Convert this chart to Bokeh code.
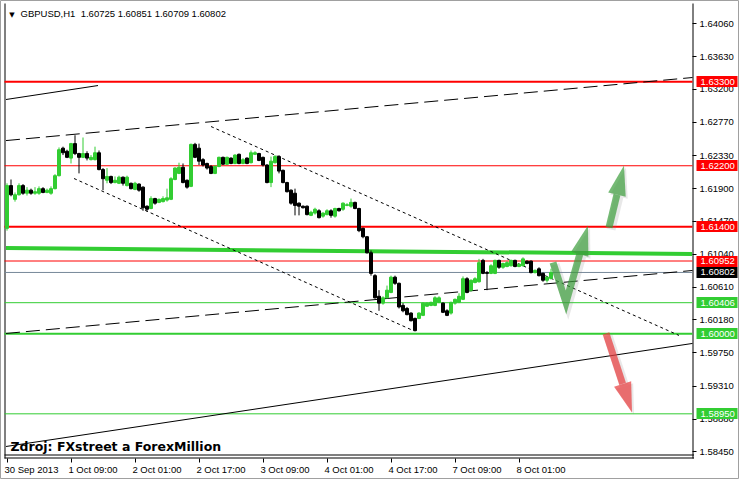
import math
import numpy as np
from bokeh.plotting import figure
from bokeh.models import Label, FixedTicker, PrintfTickFormatter, Range1d, LinearAxis
from bokeh.embed import file_html
from bokeh.resources import INLINE

# ---------------- data ----------------
symbol_title = "GBPUSD,H1\u00a0 1.60725 1.60851 1.60709 1.60802"
source_note = "Zdroj: FXstreet a ForexMillion"

opens = [1.6138,1.6194,1.6176,1.6182,1.6194,1.6184,1.6188,1.6184,1.6184,1.6190,
         1.6185,1.6184,1.6190,1.6207,1.6243,1.6239,1.6230,1.6249,1.6236,1.6231,
         1.6236,1.6228,1.6228,1.6237,1.6215,1.6201,1.6206,1.6198,1.6197,1.6205,
         1.6194,1.6197,1.6189,1.6196,1.6192,1.6167,1.6164,1.6177,1.6172,1.6173,
         1.6175,1.6176,1.6202,1.6210,1.6218,1.6201,1.6193,1.6248,1.6243,1.6228,
         1.6223,1.6219,1.6210,1.6219,1.6231,1.6222,1.6230,1.6223,1.6235,1.6223,
         1.6230,1.6224,1.6235,1.6236,1.6231,1.6221,1.6198,1.6224,1.6232,1.6214,
         1.6198,1.6188,1.6184,1.6171,1.6167,1.6167,1.6155,1.6158,1.6161,1.6154,
         1.6156,1.6161,1.6154,1.6164,1.6163,1.6168,1.6167,1.6172,1.6164,1.6138,
         1.6127,1.6106,1.6076,1.6049,1.6040,1.6047,1.6054,1.6074,1.6066,1.6037,
         1.6033,1.6027,1.6020,1.6020,1.6024,1.6036,1.6037,1.6037,1.6041,1.6040,
         1.6030,1.6027,1.6040,1.6041,1.6045,1.6072,1.6057,1.6067,1.6068,1.6096,
         1.6080,1.6079,1.6079,1.6096,1.6087,1.6088,1.6089,1.6096,1.6088,1.6089,
         1.6095,1.6095,1.6080,1.6085,1.6079,1.6070,1.60725]
highs = [1.6197,1.6202,1.6185,1.6197,1.6196,1.6192,1.6190,1.6192,1.6193,1.6192,
         1.6190,1.6193,1.6209,1.6244,1.6245,1.6241,1.6250,1.6260,1.6237,1.6257,
         1.6239,1.6234,1.6245,1.6240,1.6217,1.6217,1.6207,1.6206,1.6207,1.6206,
         1.6207,1.6198,1.6199,1.6197,1.6193,1.6168,1.6180,1.6178,1.6177,1.6180,
         1.6190,1.6205,1.6218,1.6224,1.6223,1.6202,1.6249,1.6250,1.6249,1.6230,
         1.6224,1.6221,1.6221,1.6232,1.6232,1.6232,1.6231,1.6235,1.6236,1.6230,
         1.6231,1.6240,1.6239,1.6237,1.6232,1.6222,1.6232,1.6234,1.6234,1.6215,
         1.6199,1.6189,1.6190,1.6172,1.6168,1.6168,1.6161,1.6165,1.6163,1.6159,
         1.6163,1.6163,1.6165,1.6165,1.6172,1.6171,1.6177,1.6173,1.6165,1.6139,
         1.6128,1.6109,1.6078,1.6057,1.6049,1.6063,1.6076,1.6076,1.6067,1.6040,
         1.6035,1.6028,1.6021,1.6028,1.6041,1.6041,1.6042,1.6049,1.6049,1.6041,
         1.6032,1.6042,1.6046,1.6053,1.6075,1.6074,1.6071,1.6074,1.6098,1.6098,
         1.6082,1.6091,1.6097,1.6097,1.6093,1.6095,1.6097,1.6097,1.6092,1.6100,
         1.6096,1.6096,1.6084,1.6087,1.6080,1.6075,1.60851]
lows = [1.6135,1.6180,1.6173,1.6181,1.6182,1.6181,1.6182,1.6182,1.6182,1.6184,
        1.6184,1.6182,1.6189,1.6206,1.6234,1.6230,1.6223,1.6234,1.6210,1.6230,
        1.6227,1.6227,1.6227,1.6214,1.6188,1.6197,1.6196,1.6197,1.6196,1.6194,
        1.6193,1.6189,1.6188,1.6186,1.6161,1.6160,1.6163,1.6169,1.6171,1.6172,
        1.6173,1.6175,1.6201,1.6209,1.6197,1.6190,1.6192,1.6230,1.6221,1.6219,
        1.6215,1.6209,1.6209,1.6218,1.6221,1.6221,1.6222,1.6222,1.6222,1.6222,
        1.6222,1.6223,1.6234,1.6226,1.6219,1.6197,1.6192,1.6223,1.6210,1.6197,
        1.6185,1.6169,1.6155,1.6155,1.6164,1.6155,1.6154,1.6156,1.6151,1.6152,
        1.6155,1.6152,1.6152,1.6160,1.6161,1.6167,1.6165,1.6163,1.6133,1.6125,
        1.6105,1.6076,1.6046,1.6030,1.6038,1.6046,1.6053,1.6064,1.6033,1.6028,
        1.6024,1.6016,1.6003,1.6019,1.6023,1.6035,1.6036,1.6036,1.6040,1.6027,
        1.6023,1.6025,1.6038,1.6040,1.6044,1.6053,1.6055,1.6066,1.6067,1.6078,
        1.6057,1.6078,1.6078,1.6085,1.6085,1.6087,1.6088,1.6087,1.6087,1.6088,
        1.6091,1.6079,1.6079,1.6075,1.6068,1.6067,1.60709]
closes = [1.6194,1.6182,1.6182,1.6194,1.6184,1.6188,1.6184,1.6186,1.6190,1.6185,
          1.6188,1.6190,1.6207,1.6241,1.6237,1.6231,1.6249,1.6236,1.6231,1.6236,
          1.6230,1.6231,1.6237,1.6215,1.6203,1.6206,1.6198,1.6201,1.6205,1.6197,
          1.6205,1.6190,1.6197,1.6188,1.6165,1.6163,1.6177,1.6171,1.6176,1.6177,
          1.6178,1.6203,1.6217,1.6218,1.6198,1.6192,1.6248,1.6231,1.6226,1.6221,
          1.6217,1.6210,1.6219,1.6231,1.6222,1.6231,1.6223,1.6234,1.6223,1.6228,
          1.6223,1.6237,1.6237,1.6227,1.6221,1.6198,1.6226,1.6232,1.6213,1.6198,
          1.6186,1.6171,1.6168,1.6167,1.6165,1.6156,1.6159,1.6163,1.6152,1.6158,
          1.6161,1.6155,1.6164,1.6161,1.6171,1.6169,1.6172,1.6164,1.6135,1.6127,
          1.6106,1.6079,1.6047,1.6040,1.6047,1.6057,1.6074,1.6066,1.6035,1.6030,
          1.6025,1.6017,1.6004,1.6027,1.6040,1.6040,1.6041,1.6047,1.6047,1.6028,
          1.6024,1.6041,1.6045,1.6049,1.6072,1.6054,1.6070,1.6072,1.6093,1.6079,
          1.6079,1.6089,1.6096,1.6087,1.6092,1.6093,1.6096,1.6088,1.6091,1.6098,
          1.6092,1.6080,1.6083,1.6076,1.6070,1.6074,1.60802]
bar_index = list(range(len(opens)))

time_tick_bars = [0, 16, 32, 48, 64, 80, 96, 112, 128]
time_tick_labels = ["30 Sep 2013", "1 Oct 09:00", "2 Oct 01:00", "2 Oct 17:00",
                    "3 Oct 09:00", "4 Oct 01:00", "4 Oct 17:00", "7 Oct 09:00",
                    "8 Oct 01:00"]
price_ticks = [1.64060, 1.63630, 1.63200, 1.62770, 1.62330, 1.61900, 1.61470,
               1.61040, 1.60610, 1.60180, 1.59750, 1.59310, 1.58880, 1.58450]

level_prices = [1.63300, 1.62200, 1.61400, 1.60952, 1.60406, 1.60000, 1.58950]
level_colors = ["#ff0000", "#ff0000", "#ff0000", "#ff0000", "#32cd32", "#32cd32", "#32cd32"]
level_widths = [2, 1, 2, 1, 1, 2, 1]
bid_price = 1.60802

# thick green zone line (slightly sloped)
zone_x = [-0.25, 171.3]
zone_y = [1.61123, 1.61044]

# trend lines
trend_x0 = [-0.25, -0.25, -0.25, -0.25, 51.0, 16.75]
trend_x1 = [171.375, 22.75, 171.375, 171.375, 168.0, 101.5]
trend_y0 = [1.6253, 1.63068, 1.58522, 1.60003, 1.62714, 1.62033]
trend_y1 = [1.63356, 1.63251, 1.59872, 1.60828, 1.59977, 1.60042]
trend_dash = ["14 6", "solid", "solid", "14 6", "3 3", "3 3"]

# arrows (polyline points, last point = tip)
arrow_zig_x = [136.5, 139.75, 145.25]
arrow_zig_y = [1.60933, 1.60409, 1.61418]
arrow_up_x = [150.5, 154.25]
arrow_up_y = [1.61391, 1.62204]
arrow_dn_x = [149.75, 156.25]
arrow_dn_y = [1.60003, 1.58968]

# ---------------- geometry (canvas = frame, MT4 window) ----------------
W, H = 739, 479
PX_BAR = 4.0              # pixels per hourly bar
PRICE_PX = 0.00013101     # price per pixel
x0 = -1.625
x1 = x0 + W / PX_BAR
y_top = 1.64365
y_bot = y_top - H * PRICE_PX
chart_left = x0 + 4 / PX_BAR          # chart area in data units
chart_right = x0 + 692 / PX_BAR
chart_top = y_top - 3 * PRICE_PX
chart_bottom = y_top - 458 * PRICE_PX

p = figure(frame_width=W, frame_height=H,
           x_range=Range1d(x0, x1), y_range=Range1d(y_bot, y_top),
           y_axis_location="right", output_backend="svg", toolbar_location=None,
           min_border_left=0, min_border_top=0, min_border_right=0, min_border_bottom=0)
p.background_fill_color = "white"
p.border_fill_color = "white"
p.grid.visible = False
p.outline_line_color = "#a0a0a0"

FONT = "Liberation Sans"
FS = "9.5px"

# price scale
yax = p.yaxis[0]
yax.fixed_location = chart_right
yax.ticker = FixedTicker(ticks=price_ticks)
yax.formatter = PrintfTickFormatter(format="%.5f")
yax.major_tick_out = 4
yax.major_tick_in = 0
yax.minor_tick_out = 0
yax.minor_tick_in = 0
yax.major_label_standoff = 3
yax.major_label_text_font = FONT
yax.major_label_text_font_size = FS
yax.major_label_text_color = "black"
yax.axis_line_color = None

# time scale ticks
xax = p.xaxis[0]
xax.fixed_location = chart_bottom
xax.ticker = FixedTicker(ticks=time_tick_bars)
xax.major_label_overrides = {b: t for b, t in zip(time_tick_bars, time_tick_labels)}
xax.major_tick_out = 4
xax.major_tick_in = 0
xax.minor_tick_out = 0
xax.minor_tick_in = 0
xax.major_label_text_alpha = 0
xax.axis_line_color = None

# MT4 prints time labels to the right of their tick: a label-only axis whose
# ticks sit at the centre of each text (half text width right of the tick)
label_half_px = [27.0 if "Sep" in t else 24.5 for t in time_tick_labels]
label_pos = [b + (h - 2.5) / PX_BAR for b, h in zip(time_tick_bars, label_half_px)]
xlab = LinearAxis(fixed_location=chart_bottom, ticker=FixedTicker(ticks=label_pos),
                  major_label_overrides={pos: t for pos, t in zip(label_pos, time_tick_labels)},
                  axis_line_color=None, major_tick_out=0, major_tick_in=0,
                  minor_tick_out=0, minor_tick_in=0, major_tick_line_color=None,
                  minor_tick_line_color=None, major_label_standoff=5,
                  major_label_text_font=FONT, major_label_text_font_size=FS,
                  major_label_text_color="black")
p.add_layout(xlab, "below")

# chart frame: left border, price-scale line, double bottom line
p.segment(x0=[chart_left + 0.5 / PX_BAR, chart_right + 0.5 / PX_BAR, chart_left, chart_left],
          y0=[chart_bottom, chart_bottom, chart_bottom + 0.5 * PRICE_PX, chart_bottom + 3.5 * PRICE_PX],
          x1=[chart_left + 0.5 / PX_BAR, chart_right + 0.5 / PX_BAR, chart_right + 1.5 / PX_BAR, chart_right + 1.5 / PX_BAR],
          y1=[chart_top, chart_top, chart_bottom + 0.5 * PRICE_PX, chart_bottom + 3.5 * PRICE_PX],
          line_color="black", line_width=1)

# horizontal levels
n_lv = len(level_prices)
p.segment(x0=[chart_left] * n_lv, x1=[chart_right] * n_lv, y0=level_prices, y1=level_prices,
          line_color=level_colors, line_width=level_widths)
p.segment(x0=[chart_left], x1=[chart_right], y0=[bid_price], y1=[bid_price],
          line_color="#778899", line_width=1)

# thick green zone
p.line(zone_x, zone_y, line_color="#32cd32", line_width=4)

# trend lines
for a, b, c, d, ds in zip(trend_x0, trend_x1, trend_y0, trend_y1, trend_dash):
    p.line([a, b], [c, d], line_color="black", line_width=1, line_dash=ds)

# candles
up_col = "#32cd32"
dn_col = "black"
cols = [up_col if c >= o else dn_col for o, c in zip(opens, closes)]
tops = [max(o, c) for o, c in zip(opens, closes)]
bots = [min(o, c) for o, c in zip(opens, closes)]
p.segment(x0=bar_index, y0=lows, x1=bar_index, y1=highs, line_color=cols, line_width=1)
p.vbar(x=bar_index, width=0.75, top=tops, bottom=bots, fill_color=cols, line_color=cols, line_width=1)

# arrows
px_per_bar = PX_BAR
px_per_price = 1.0 / PRICE_PX

def arrow_parts(xs, ys, head_len=30.0, head_w=18.0):
    ax = np.array(xs) * px_per_bar
    ay = np.array(ys) * px_per_price
    dx, dy = ax[-1] - ax[-2], ay[-1] - ay[-2]
    L = math.hypot(dx, dy)
    ux, uy = dx / L, dy / L
    bx, by = ax[-1] - ux * head_len, ay[-1] - uy * head_len
    nx, ny = -uy, ux
    hx = [ax[-1], bx + nx * head_w / 2, bx - nx * head_w / 2]
    hy = [ay[-1], by + ny * head_w / 2, by - ny * head_w / 2]
    sxs = list(ax[:-1]) + [bx]
    sys_ = list(ay[:-1]) + [by]
    return ([v / px_per_bar for v in sxs], [v / px_per_price for v in sys_],
            [v / px_per_bar for v in hx], [v / px_per_price for v in hy])

def draw_arrow(xs, ys, color):
    sx_, sy_, hx, hy = arrow_parts(xs, ys)
    shx = [v + 2.0 / px_per_bar for v in sx_]
    shy = [v - 2.0 / px_per_price for v in sy_]
    p.line(shx, shy, line_color="#808080", line_alpha=0.18, line_width=9,
           line_join="miter", line_cap="butt")
    p.patch([v + 2.0 / px_per_bar for v in hx], [v - 2.0 / px_per_price for v in hy],
            fill_color="#808080", fill_alpha=0.18, line_alpha=0)
    p.line(sx_, sy_, line_color=color, line_alpha=0.7, line_width=7,
           line_join="miter", line_cap="butt")
    p.patch(hx, hy, fill_color=color, fill_alpha=0.7, line_alpha=0)

draw_arrow(arrow_zig_x, arrow_zig_y, "#3a9d3a")
draw_arrow(arrow_up_x, arrow_up_y, "#3a9d3a")
draw_arrow(arrow_dn_x, arrow_dn_y, "#e8393a")

# right-scale price boxes: one single-tick axis each, the tick drawn as a
# wide coloured bar and the white label printed on top of it
box_prices = level_prices + [bid_price]
box_colors = level_colors + ["black"]
box_loc = chart_right + 4.0 / PX_BAR
for lp, lc in zip(box_prices, box_colors):
    bax = LinearAxis(fixed_location=box_loc, ticker=FixedTicker(ticks=[lp]),
                     formatter=PrintfTickFormatter(format="%.5f"),
                     axis_line_color=None, major_tick_in=0, major_tick_out=41,
                     major_tick_line_width=11, major_tick_line_color=lc,
                     major_tick_line_cap="butt",
                     minor_tick_out=0, minor_tick_in=0, minor_tick_line_color=None,
                     major_label_standoff=-37, major_label_text_color="white",
                     major_label_text_font=FONT, major_label_text_font_size=FS)
    p.add_layout(bax, "right")

# title and note
p.add_layout(Label(x=11.5, y=H - 14, x_units="screen", y_units="screen", text="\u25bc",
                   text_font="DejaVu Sans", text_font_size="7px", text_color="black",
                   text_align="center", text_baseline="middle"))
p.add_layout(Label(x=20, y=H - 13, x_units="screen", y_units="screen", text=symbol_title,
                   text_font=FONT, text_font_size=FS, text_color="black",
                   text_align="left", text_baseline="middle"))
p.add_layout(Label(x=10, y=H - 446, x_units="screen", y_units="screen", text=source_note,
                   text_font="DejaVu Sans", text_font_style="bold", text_font_size="12.5px",
                   text_color="black", text_align="left", text_baseline="middle"))

open("out.html", "w").write(file_html(p, INLINE))
